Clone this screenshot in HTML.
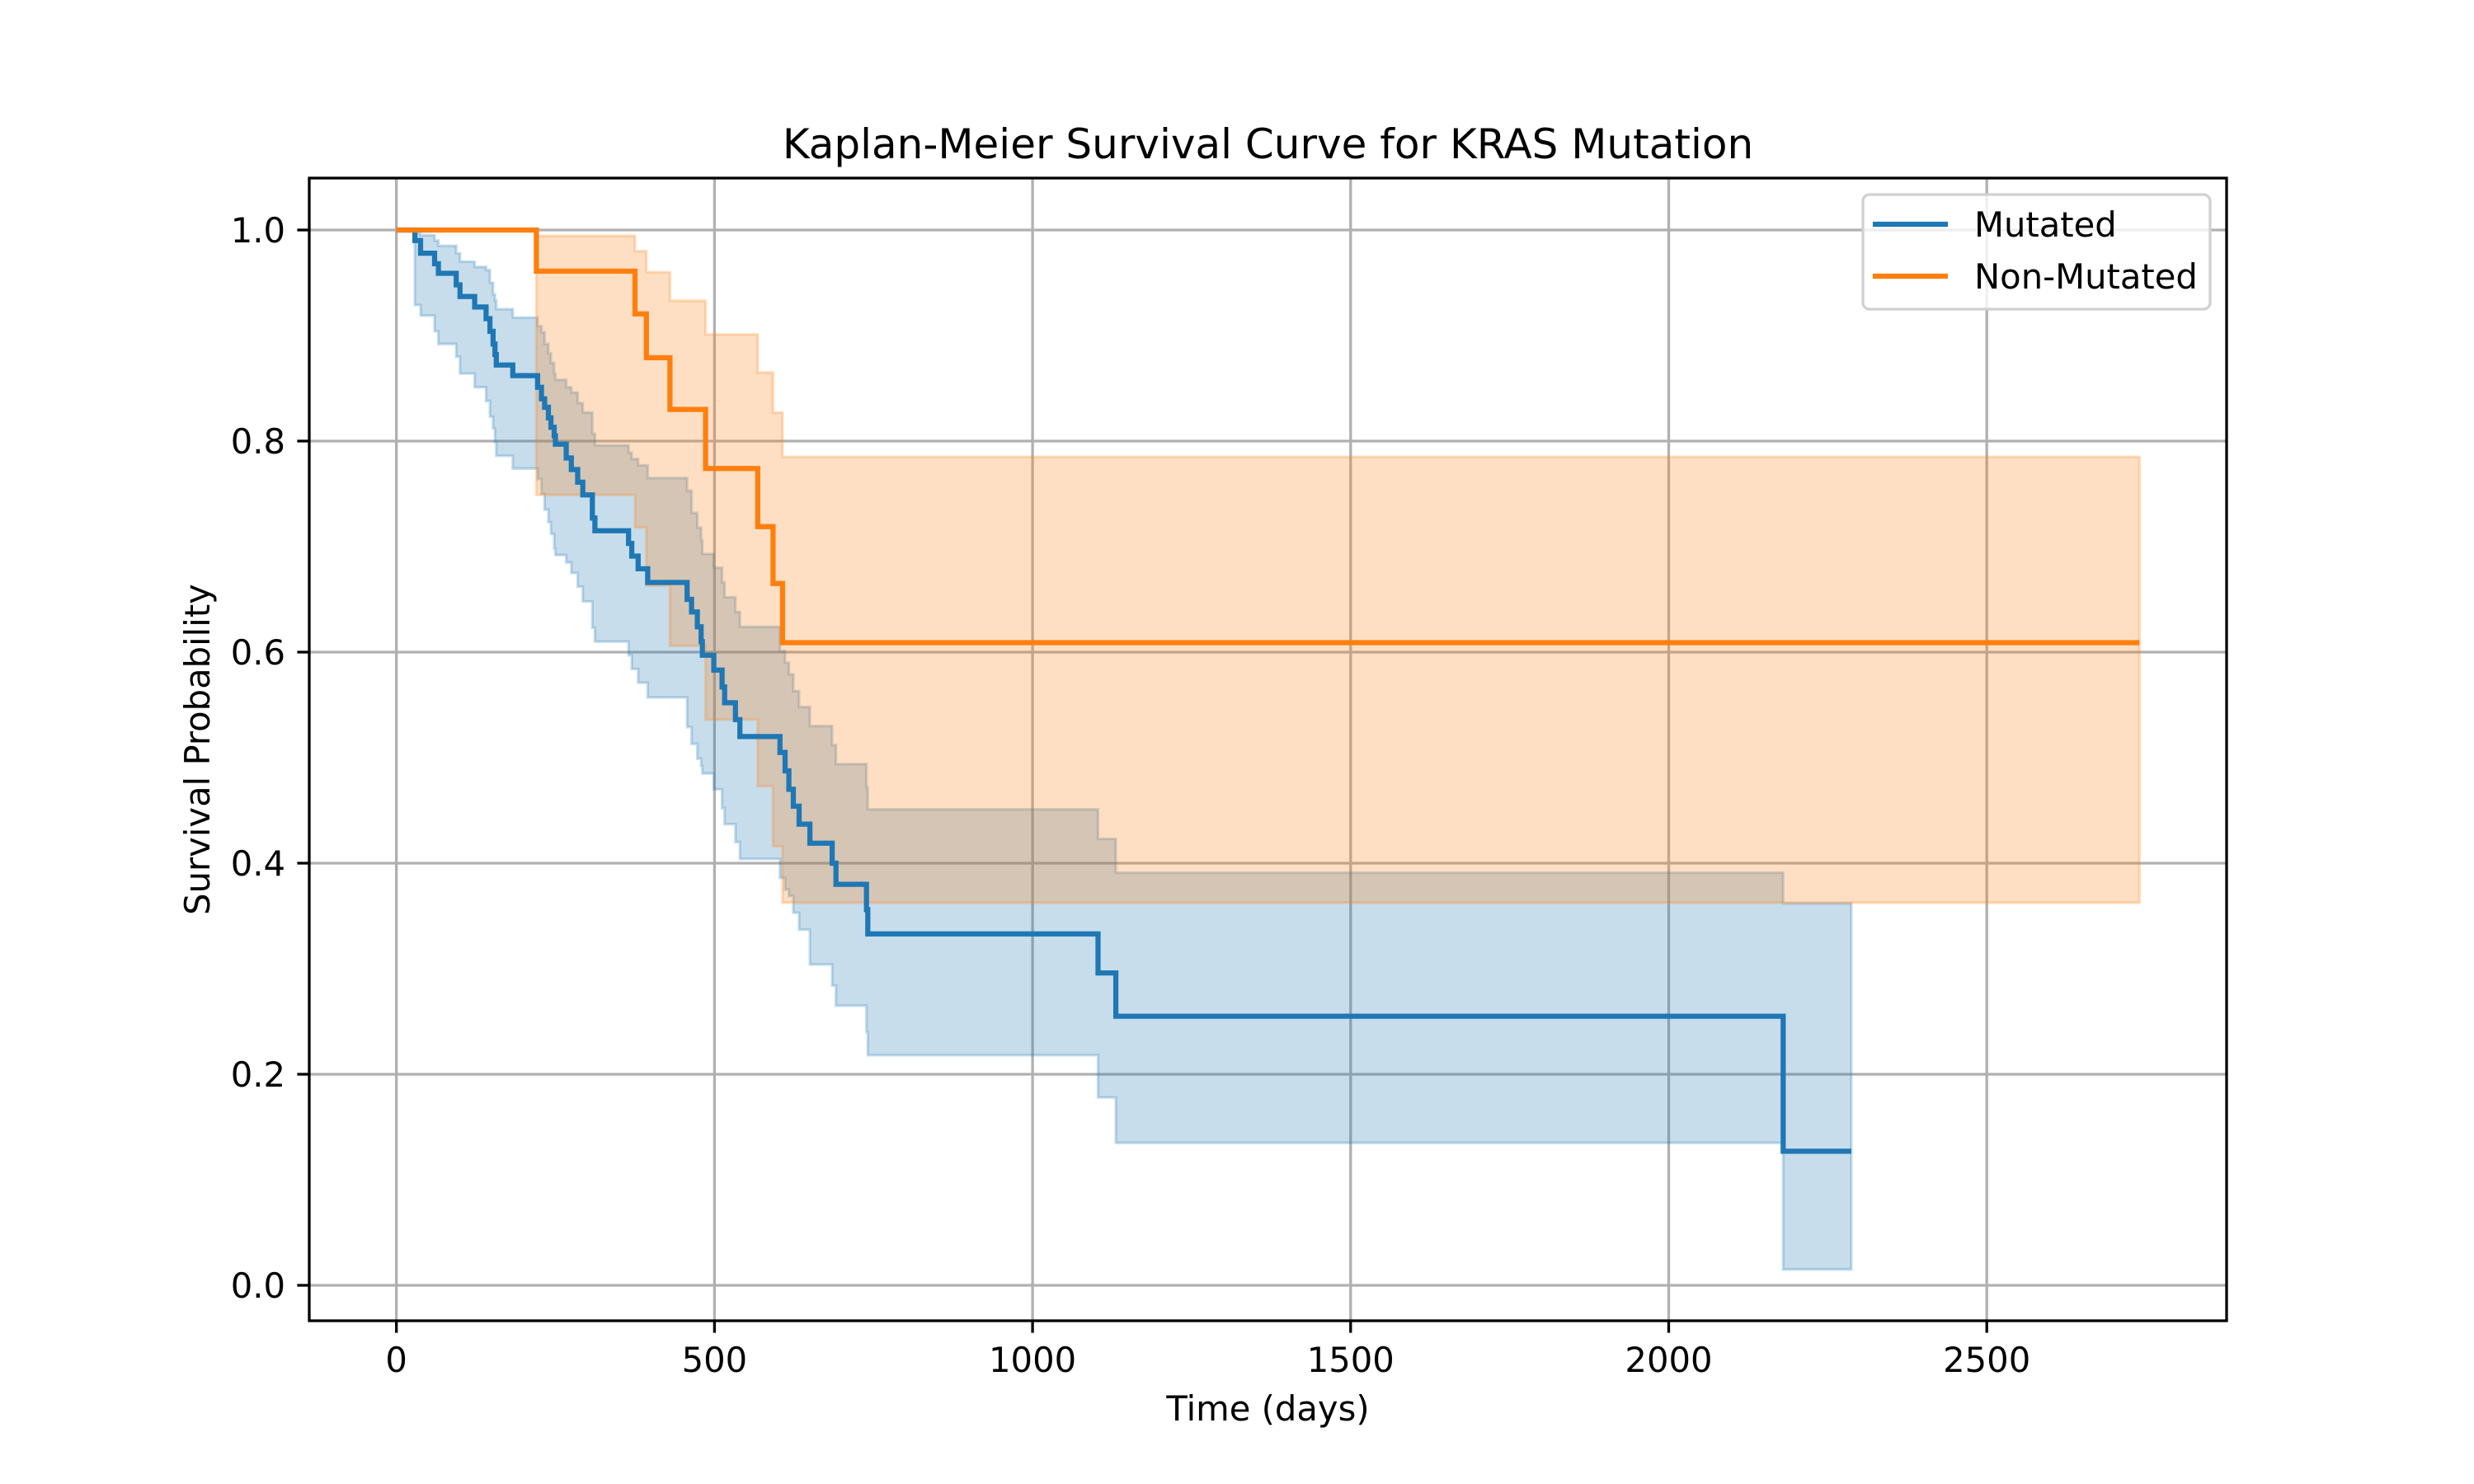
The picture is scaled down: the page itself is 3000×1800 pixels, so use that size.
<!DOCTYPE html>
<html><head><meta charset="utf-8"><style>
html,body{margin:0;padding:0;background:#fff;}
svg{display:block;font-family:"DejaVu Sans","Liberation Sans",sans-serif;}
</style></head><body>
<svg id="chart" width="3000" height="1800" viewBox="0 0 3000 1800" xmlns="http://www.w3.org/2000/svg">
<rect width="3000" height="1800" fill="#fff"/>
<g id="grid"></g>
<g id="fills"></g>
<g id="lines"></g>
<rect x="375" y="216" width="2325" height="1386" fill="none" stroke="#000" stroke-width="3.3"/>
<g id="ticks"></g>
<text x="1537.5" y="192" font-size="50" text-anchor="middle">Kaplan-Meier Survival Curve for KRAS Mutation</text>
<text x="1537.5" y="1723" font-size="41.7" text-anchor="middle">Time (days)</text>
<text x="0" y="0" font-size="41.7" text-anchor="middle" transform="translate(254,909) rotate(-90)">Survival Probability</text>
<g>
<rect x="2259" y="236" width="421" height="139" rx="8" fill="#fff" fill-opacity="0.8" stroke="#d0d0d0" stroke-width="3.3"/>
<line x1="2271" y1="272" x2="2362" y2="272" stroke="#1f77b4" stroke-width="6.25"/>
<text x="2394" y="287" font-size="41.7">Mutated</text>
<line x1="2271" y1="335" x2="2362" y2="335" stroke="#ff7f0e" stroke-width="6.25"/>
<text x="2394" y="350" font-size="41.7">Non-Mutated</text>
</g>
</svg>
<script>
const xTicks = [0, 500, 1000, 1500, 2000, 2500];
const yTicks = [0.0, 0.2, 0.4, 0.6, 0.8, 1.0];
const yTickLabels = ["0.0", "0.2", "0.4", "0.6", "0.8", "1.0"];

const mutTimes = [0,29,38,60,66,94,100,123,141,147,152,155,157,183,222,228,233,239,243,248,250,267,275,285,293,308,312,365,370,380,395,457,464,473,479,481,499,512,516,533,540,603,611,617,624,633,650,685,691,739,741,1103,1131,2180];
const mutSurv = [1,.990,.978,.968,.959,.948,.937,.927,.916,.904,.892,.882,.872,.862,.851,.840,.832,.822,.813,.805,.797,.784,.773,.761,.749,.727,.715,.703,.691,.679,.666,.650,.638,.624,.610,.597,.583,.567,.552,.536,.520,.505,.4875,.470,.454,.437,.419,.400,.380,.356,.333,.296,.255,.127];
const mutUpper = [1,.997,.995,.990,.985,.978,.970,.965,.962,.950,.939,.933,.925,.917,.909,.903,.892,.883,.874,.864,.858,.851,.846,.836,.827,.807,.796,.789,.783,.777,.765,.753,.732,.718,.706,.693,.680,.666,.652,.638,.624,.601,.590,.579,.563,.548,.530,.512,.494,.472,.451,.423,.391,.362];
const mutLower = [1,.929,.919,.904,.892,.880,.864,.851,.838,.823,.812,.799,.786,.774,.764,.750,.735,.723,.712,.698,.692,.685,.675,.662,.648,.623,.610,.597,.584,.571,.557,.529,.513,.499,.492,.485,.470,.452,.437,.420,.404,.386,.375,.369,.353,.337,.304,.284,.265,.240,.218,.178,.135,.015];
const mutEnd = 2287;

const nonTimes = [0,220,375,393,430,486,568,592,607];
const nonSurv = [1,.961,.9205,.879,.830,.774,.719,.665,.609];
const nonUpper = [1,.9945,.980,.960,.933,.901,.865,.827,.785];
const nonLower = [1,.749,.718,.663,.606,.536,.473,.416,.3625];
const nonEnd = 2740;

const NS = "http://www.w3.org/2000/svg";
const X0 = 375, X1 = 2700, Y0 = 1602, Y1 = 216;
const xMin = -137, xMax = 2877, yMin = -0.0336, yMax = 1.0492;
function xs(v){ return X0 + (v - xMin) / (xMax - xMin) * (X1 - X0); }
function ys(v){ return Y0 - (v - yMin) / (yMax - yMin) * (Y0 - Y1); }
function mk(tag, attrs, parent){
  const e = document.createElementNS(NS, tag);
  for (const k in attrs) e.setAttribute(k, attrs[k]);
  parent.appendChild(e);
  return e;
}
const grid = document.getElementById('grid');
const ticks = document.getElementById('ticks');
xTicks.forEach(t => {
  const g = mk('line', {x1: xs(t), x2: xs(t), y1: Y1, y2: Y0, stroke: '#b0b0b0', 'stroke-width': 3.3}, grid);
  
  
  const tk = mk('line', {x1: xs(t), x2: xs(t), y1: Y0, y2: Y0 + 14.6, stroke: '#000', 'stroke-width': 3.3}, ticks);
  
  
  const lb = mk('text', {x: xs(t), y: Y0 + 62, 'font-size': 41.7, 'text-anchor': 'middle'}, ticks);
  lb.textContent = String(t);
  
  
});
yTicks.forEach((t, i) => {
  const g = mk('line', {x1: X0, x2: X1, y1: ys(t), y2: ys(t), stroke: '#b0b0b0', 'stroke-width': 3.3}, grid);
  
  
  const tk = mk('line', {x1: X0 - 14.6, x2: X0, y1: ys(t), y2: ys(t), stroke: '#000', 'stroke-width': 3.3}, ticks);
  
  
  const lb = mk('text', {x: X0 - 29, y: ys(t) + 15, 'font-size': 41.7, 'text-anchor': 'end'}, ticks);
  lb.textContent = yTickLabels[i];
  
  
});
function stepPts(times, vals, end){
  const pts = [];
  for (let i = 0; i < times.length; i++){
    const tNext = i + 1 < times.length ? times[i + 1] : end;
    pts.push([xs(times[i]), ys(vals[i])]);
    pts.push([xs(tNext), ys(vals[i])]);
  }
  return pts;
}
function drawGroup(times, surv, upper, lower, end, color, nm){
  const up = stepPts(times, upper, end);
  const lo = stepPts(times, lower, end).reverse();
  const d = 'M' + up.concat(lo).map(p => p[0].toFixed(1) + ',' + p[1].toFixed(1)).join('L') + 'Z';
  const f = mk('path', {d: d, fill: color, 'fill-opacity': 0.25, stroke: color, 'stroke-opacity': 0.25, 'stroke-width': 3.3}, document.getElementById('fills'));
  
  
  const s = stepPts(times, surv, end);
  const l = mk('path', {d: 'M' + s.map(p => p[0].toFixed(1) + ',' + p[1].toFixed(1)).join('L'), fill: 'none', stroke: color, 'stroke-width': 6.25, 'stroke-linejoin': 'miter'}, document.getElementById('lines'));
  
  
}
drawGroup(mutTimes, mutSurv, mutUpper, mutLower, mutEnd, '#1f77b4', 'mutated');
drawGroup(nonTimes, nonSurv, nonUpper, nonLower, nonEnd, '#ff7f0e', 'non-mutated');
</script>
</body></html>
